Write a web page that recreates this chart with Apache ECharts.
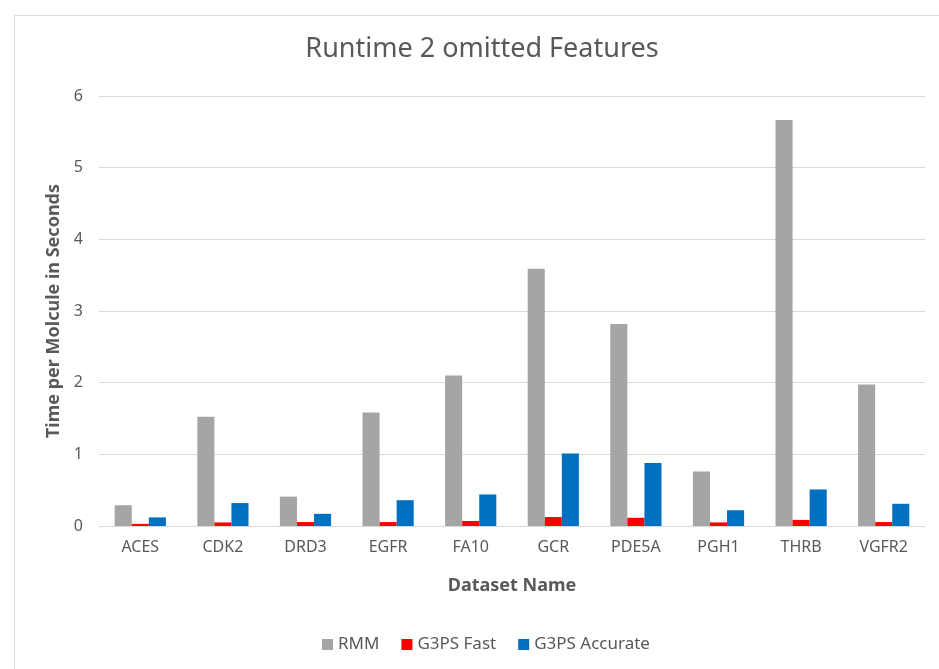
<!DOCTYPE html>
<html>
<head>
<meta charset="utf-8">
<script src="https://cdn.jsdelivr.net/npm/echarts@6/dist/echarts.min.js"></script>
<style>
  html, body { margin: 0; padding: 0; background: #ffffff; }
  #chart { width: 939px; height: 669px; }
</style>
</head>
<body>
<div id="chart"></div>
<script>
// Dataset names along the x axis
const categories = ['ACES', 'CDK2', 'DRD3', 'EGFR', 'FA10', 'GCR', 'PDE5A', 'PGH1', 'THRB', 'VGFR2'];

// Runtime per molecule (seconds) for each method
const rmm          = [0.29, 1.525, 0.41, 1.585, 2.10, 3.59, 2.82, 0.76, 5.665, 1.975];
const g3psFast     = [0.03, 0.05, 0.055, 0.055, 0.07, 0.125, 0.115, 0.05, 0.085, 0.055];
const g3psAccurate = [0.12, 0.32, 0.17, 0.36, 0.44, 1.01, 0.88, 0.22, 0.51, 0.31];

const seriesNames = ['RMM', 'G3PS Fast', 'G3PS Accurate'];
const seriesColors = ['#a5a5a5', '#ff0000', '#0070c0'];

const FONT = 'Noto Sans';
const TEXT = '#595959';

const chart = echarts.init(document.getElementById('chart'), null, { renderer: 'canvas' });

const makeBar = (name, data, color) => ({
  name: name,
  type: 'bar',
  data: data,
  barGap: '0%',
  barCategoryGap: '38%',
  itemStyle: { color: color },
  emphasis: { disabled: true }
});

chart.setOption({
  backgroundColor: '#ffffff',
  animation: false,
  graphic: [{
    type: 'rect',
    left: 12, top: 13,
    shape: { width: 960, height: 700 },
    style: { fill: 'none', stroke: '#d9d9d9', lineWidth: 1 },
    silent: true
  }, {
    // chart title, centred over the chart frame
    type: 'text',
    x: 482, y: 49,
    style: {
      text: 'Runtime 2 omitted Features',
      align: 'center', verticalAlign: 'middle',
      fontFamily: FONT, fontSize: 27, fontWeight: 'normal', fill: TEXT
    },
    silent: true
  }],
  legend: {
    data: seriesNames,
    bottom: 11,
    left: 317,
    itemWidth: 11,
    itemHeight: 11,
    itemGap: 22,
    icon: 'rect',
    textStyle: { fontFamily: FONT, fontSize: 17, color: TEXT }
  },
  grid: { left: 99, right: 14, top: 96, bottom: 143, containLabel: false },
  xAxis: {
    type: 'category',
    data: categories,
    name: 'Dataset Name',
    nameLocation: 'middle',
    nameGap: 51,
    nameTextStyle: { fontFamily: FONT, fontSize: 18, fontWeight: 'bold', color: TEXT },
    axisLine: { lineStyle: { color: '#d9d9d9', width: 1 } },
    axisTick: { show: false },
    axisLabel: { fontFamily: FONT, fontSize: 16, color: TEXT, margin: 13 }
  },
  yAxis: {
    type: 'value',
    min: 0,
    max: 6,
    interval: 1,
    name: 'Time per Molcule in Seconds',
    nameLocation: 'middle',
    nameGap: 34,
    nameTextStyle: { fontFamily: FONT, fontSize: 18, fontWeight: 'bold', color: TEXT },
    axisLine: { show: false },
    axisTick: { show: false },
    axisLabel: { fontFamily: FONT, fontSize: 16, color: TEXT, margin: 16 },
    splitLine: { lineStyle: { color: '#d9d9d9', width: 1 } }
  },
  series: [
    makeBar(seriesNames[0], rmm, seriesColors[0]),
    makeBar(seriesNames[1], g3psFast, seriesColors[1]),
    makeBar(seriesNames[2], g3psAccurate, seriesColors[2])
  ]
});
</script>
</body>
</html>
